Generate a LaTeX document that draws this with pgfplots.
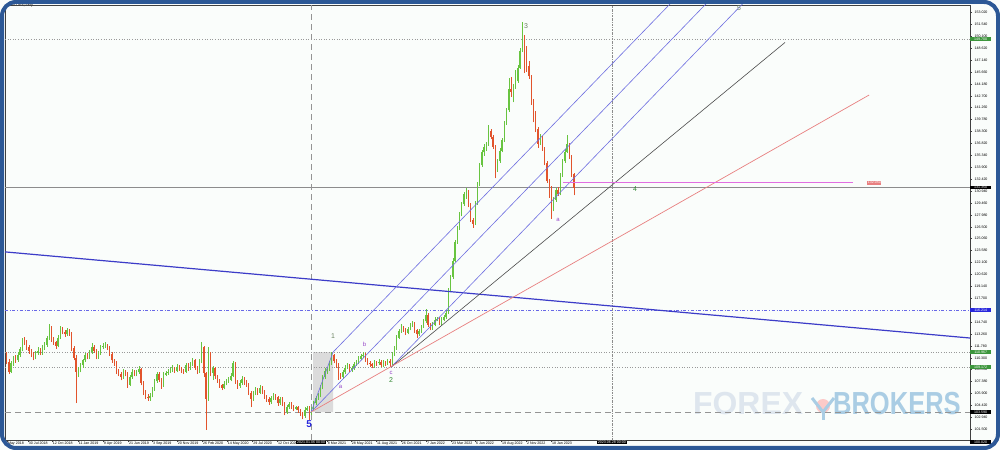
\documentclass[border=0pt]{standalone}
\usepackage{pgfplots}
\pgfplotsset{compat=1.18}
\usepackage{pgfplotstable}
\usepackage{fontspec}
\setmainfont{Liberation Sans}
\definecolor{upc}{RGB}{104,196,64}
\definecolor{dnc}{RGB}{226,84,44}
\definecolor{bgc}{RGB}{250,253,251}
\definecolor{framec}{RGB}{44,88,150}
\definecolor{pfblue}{RGB}{110,110,225}
\definecolor{tlblue}{RGB}{60,60,200}
\definecolor{tlred}{RGB}{232,128,128}
\definecolor{tlpink}{RGB}{225,110,225}
\definecolor{wvgreen}{RGB}{50,135,50}
\definecolor{wvgray}{RGB}{105,130,95}
\definecolor{wvpurple}{RGB}{150,70,200}
\definecolor{lblgreen}{RGB}{60,150,60}
\definecolor{lblblue}{RGB}{40,40,220}
\definecolor{wmA}{RGB}{222,230,238}
\definecolor{wmB}{RGB}{170,205,228}
\newcommand{\tk}{\fontsize{3.6}{4}\selectfont}

\pgfplotstableread{
w o h l c
-10 110.6 111.0 109.5 109.8
-9 109.8 110.1 108.3 108.6
-8 108.6 109.9 108.4 109.6
-7 109.6 110.5 109.3 110.2
-6 110.2 110.6 109.7 110.0
-5 110.0 111.0 109.8 110.7
-4 110.7 111.7 110.4 111.4
-3 111.4 112.8 111.1 112.4
-2 112.4 112.9 111.9 112.3
-1 112.3 112.5 111.3 111.6
0 111.6 111.9 110.8 111.1
1 111.1 111.4 110.4 110.7
2 110.7 111.0 110.0 110.3
3 110.3 111.2 110.1 110.9
4 110.9 111.6 110.7 111.2
5 111.2 111.5 110.6 110.9
6 110.9 111.9 110.7 111.6
7 111.6 112.2 111.3 111.9
8 111.9 113.0 111.7 112.7
9 112.7 114.5 112.5 114.0
10 114.0 114.2 112.3 112.6
11 112.6 112.9 111.9 112.2
12 112.2 112.4 111.4 111.8
13 111.8 113.1 111.6 112.8
14 112.8 114.2 112.6 113.9
15 113.9 114.1 113.2 113.5
16 113.5 113.7 112.9 113.2
17 113.2 114.0 113.0 113.7
18 113.7 113.9 113.0 113.3
19 113.3 113.5 111.2 111.5
20 111.5 111.8 110.0 110.3
21 110.3 110.6 104.7 108.6
22 108.6 109.2 107.9 108.7
23 108.7 109.7 108.5 109.4
24 109.4 110.2 109.1 110.0
25 110.0 110.9 109.8 110.6
26 110.6 110.9 110.1 110.4
27 110.4 111.3 110.2 111.0
28 111.0 112.1 110.8 111.7
29 111.7 111.9 110.9 111.2
30 111.2 111.4 110.1 110.4
31 110.4 111.2 110.2 110.9
32 110.9 111.9 110.7 111.6
33 111.6 112.1 111.4 111.8
34 111.8 112.2 111.5 111.9
35 111.9 112.0 111.3 111.6
36 111.6 111.8 110.5 110.8
37 110.8 111.0 109.7 110.0
38 110.0 110.2 109.3 109.6
39 109.6 109.9 108.3 108.6
40 108.6 108.9 108.0 108.3
41 108.3 108.5 107.5 107.9
42 107.9 108.9 107.7 108.6
43 108.6 108.8 108.0 108.3
44 108.3 108.5 106.6 107.0
45 107.0 108.2 106.8 107.9
46 107.9 108.9 107.7 108.6
47 108.6 108.8 108.0 108.3
48 108.3 108.8 108.0 108.5
49 108.5 109.3 108.3 108.9
50 108.9 109.1 106.9 107.2
51 107.2 107.4 105.7 106.0
52 106.0 106.3 105.2 105.5
53 105.5 105.8 105.0 105.3
54 105.3 105.9 105.0 105.6
55 105.6 106.7 105.4 106.4
56 106.4 107.7 106.2 107.4
57 107.4 108.5 107.2 108.3
58 108.3 108.5 107.3 107.6
59 107.6 107.8 106.5 106.9
60 106.9 108.5 106.7 108.2
61 108.2 108.7 108.0 108.4
62 108.4 108.9 108.2 108.6
63 108.6 109.2 108.4 108.9
64 108.9 109.4 108.6 109.0
65 109.0 109.2 108.4 108.7
66 108.7 109.5 108.5 109.2
67 109.2 109.4 108.7 109.0
68 109.0 109.2 108.4 108.7
69 108.7 108.9 108.3 108.6
70 108.6 109.7 108.4 109.4
71 109.4 109.6 108.7 109.0
72 109.0 109.8 108.8 109.5
73 109.5 110.3 109.3 110.0
74 110.0 110.2 108.8 109.1
75 109.1 109.3 108.3 108.6
76 108.6 110.1 108.4 109.8
77 109.8 112.2 109.6 111.6
78 111.6 111.8 107.9 108.4
79 108.4 108.6 101.4 105.2
80 105.2 111.7 105.0 110.8
81 110.8 111.0 108.0 108.4
82 108.4 109.3 107.6 109.0
83 109.0 109.2 107.7 108.0
84 108.0 108.2 107.2 107.5
85 107.5 107.7 106.6 106.9
86 106.9 107.1 106.3 106.6
87 106.6 107.4 106.4 107.1
88 107.1 107.7 106.9 107.4
89 107.4 107.9 107.2 107.6
90 107.6 108.4 107.4 108.1
91 108.1 109.9 107.9 109.6
92 109.6 109.8 107.1 107.4
93 107.4 107.6 106.5 106.8
94 106.8 107.5 106.6 107.2
95 107.2 108.0 107.0 107.7
96 107.7 107.9 107.0 107.3
97 107.3 107.5 106.7 107.0
98 107.0 107.2 105.7 106.0
99 106.0 106.2 104.2 105.2
100 105.2 106.2 105.0 105.9
101 105.9 106.7 105.7 106.4
102 106.4 106.6 105.7 106.0
103 106.0 106.9 105.8 106.6
104 106.6 106.8 105.8 106.1
105 106.1 106.3 105.2 105.5
106 105.5 105.7 104.9 105.2
107 105.2 105.4 104.5 104.8
108 104.8 105.6 104.6 105.3
109 105.3 105.9 105.1 105.6
110 105.6 105.8 105.1 105.4
111 105.4 105.6 104.4 104.7
112 104.7 105.5 104.5 105.2
113 105.2 105.4 104.3 104.6
114 104.6 104.8 103.2 103.6
115 103.6 104.5 103.4 104.2
116 104.2 104.9 104.0 104.6
117 104.6 104.8 104.0 104.3
118 104.3 104.5 103.7 104.0
119 104.0 104.4 103.8 104.2
120 104.2 104.4 103.5 103.8
121 103.8 104.0 103.1 103.4
122 103.4 103.6 102.7 103.1
123 103.1 104.2 102.9 103.9
124 103.9 104.4 103.7 104.1
125 104.1 104.3 102.6 103.4
126 103.4 104.2 103.2 103.9
127 103.9 105.0 103.7 104.7
128 104.7 105.6 104.5 105.3
129 105.3 105.9 105.1 105.6
130 105.6 106.9 105.4 106.6
131 106.6 108.2 106.4 107.9
132 107.9 109.0 107.7 108.7
133 108.7 109.2 108.3 108.9
134 108.9 109.9 108.7 109.6
135 109.6 111.0 109.4 110.6
136 110.6 110.8 109.6 109.9
137 109.9 110.1 109.1 109.4
138 109.4 109.6 107.6 108.2
139 108.2 108.4 107.7 107.9
140 107.9 108.8 107.7 108.5
141 108.5 109.4 108.3 109.1
142 109.1 109.6 108.9 109.3
143 109.3 109.5 108.5 108.8
144 108.8 109.3 108.6 109.0
145 109.0 109.8 108.8 109.5
146 109.5 110.0 109.3 109.7
147 109.7 110.5 109.5 110.2
148 110.2 110.8 110.0 110.5
149 110.5 111.0 110.3 110.7
150 110.7 110.9 109.8 110.1
151 110.1 110.3 109.4 109.7
152 109.7 109.9 109.2 109.5
153 109.5 109.7 109.0 109.3
154 109.3 110.0 109.1 109.7
155 109.7 109.9 109.3 109.6
156 109.6 110.1 109.4 109.8
157 109.8 110.0 109.2 109.4
158 109.4 110.0 109.2 109.7
159 109.7 109.9 109.3 109.6
160 109.6 110.2 109.4 109.9
161 109.9 110.1 109.2 109.6
162 109.6 111.0 109.4 110.7
163 110.7 111.8 110.5 111.5
164 111.5 113.1 111.3 112.8
165 112.8 113.9 112.6 113.6
166 113.6 114.5 113.4 114.0
167 114.0 114.2 113.5 113.8
168 113.8 114.0 113.1 113.4
169 113.4 114.1 113.2 113.9
170 113.9 114.6 113.7 114.3
171 114.3 114.8 114.1 114.5
172 114.5 114.7 113.4 113.7
173 113.7 113.9 112.7 113.2
174 113.2 113.9 113.0 113.6
175 113.6 114.4 113.4 114.2
176 114.2 115.1 114.0 114.8
177 114.8 116.3 114.6 115.6
178 115.6 115.8 114.1 114.4
179 114.4 114.6 113.7 114.0
180 114.0 114.7 113.8 114.4
181 114.4 115.3 114.2 115.0
182 115.0 115.4 114.8 115.1
183 115.1 115.3 114.3 114.6
184 114.6 115.3 114.4 115.0
185 115.0 115.6 114.8 115.3
186 115.3 116.2 115.1 115.9
187 115.9 118.9 115.7 118.6
188 118.6 120.6 118.4 120.3
189 120.3 122.6 120.1 122.3
190 122.3 124.9 122.1 124.6
191 124.6 126.6 124.4 126.3
192 126.3 128.3 126.1 128.0
193 128.0 129.6 127.8 129.3
194 129.3 130.8 129.1 130.5
195 130.5 131.3 130.0 130.9
196 130.9 131.1 128.9 129.2
197 129.2 129.4 127.1 127.4
198 127.4 127.6 126.4 126.9
199 126.9 129.7 126.7 129.4
200 129.4 132.0 129.2 131.7
201 131.7 134.4 131.5 134.1
202 134.1 136.0 133.9 135.7
203 135.7 136.7 135.3 136.4
204 136.4 137.0 135.9 136.7
205 136.7 139.1 136.5 138.4
206 138.4 138.6 137.3 137.6
207 137.6 137.8 136.1 136.4
208 136.4 136.6 132.5 133.5
209 133.5 134.9 133.3 134.6
210 134.6 136.2 134.4 135.9
211 135.9 137.5 135.7 137.2
212 137.2 139.6 137.0 139.3
213 139.3 141.2 139.1 140.9
214 140.9 144.9 140.7 143.6
215 143.6 145.0 142.6 143.2
216 143.2 144.1 141.9 143.8
217 143.8 145.9 143.6 144.5
218 144.5 146.5 144.3 146.2
219 146.2 148.6 146.0 148.3
220 148.3 151.8 148.1 150.0
221 150.0 150.2 145.5 147.5
222 147.5 148.8 145.7 146.4
223 146.4 147.0 144.8 145.1
224 145.1 145.3 141.6 142.0
225 142.0 142.3 139.4 139.8
226 139.8 140.8 138.2 138.6
227 138.6 138.8 136.3 136.8
228 136.8 138.0 136.6 137.5
229 137.5 137.7 135.9 136.2
230 136.2 136.4 134.1 134.4
231 134.4 134.6 131.9 132.2
232 132.2 132.4 130.1 130.4
233 130.4 131.6 127.5 128.6
234 128.6 130.2 128.4 129.8
235 129.8 131.3 129.6 131.0
236 131.0 131.4 130.3 130.6
237 130.6 133.2 130.4 132.9
238 132.9 134.9 132.7 134.6
239 134.6 136.1 134.4 135.8
240 135.8 137.9 135.6 136.7
241 136.7 136.9 134.9 135.2
242 135.2 135.4 132.7 133.0
243 133.0 133.2 130.4 131.35
}\candles

\begin{document}
\begin{tikzpicture}
\useasboundingbox (0,0) rectangle (1000bp,450bp);
\fill[bgc] (0,0) rectangle (1000bp,450bp);
% watermark
\node[anchor=base west, text=wmA, font=\fontsize{32}{32}\selectfont\bfseries, inner sep=0] at (693bp,36bp) {FOREX};
\fill[red!45, opacity=0.45] (823bp,44bp) circle (7bp);
\draw[wmB, line width=3bp] (812bp,52bp) -- (823bp,38bp) -- (834bp,52bp);
\draw[wmB, line width=3bp] (823bp,38bp) -- (823bp,30bp);
\node[anchor=base west, text=wmB, font=\fontsize{32}{32}\selectfont\bfseries, inner sep=0, xscale=0.8] at (833bp,36bp) {BROKERS};
\node[anchor=west, font=\fontsize{3.8}{4}\selectfont, inner sep=0] at (9bp,444bp) {USDJPY,Daily};
\begin{axis}[
  at={(5bp,10bp)}, anchor=south west,
  width=965bp, height=435bp, scale only axis,
  xmin=-10.7, xmax=419.7, ymin=100.14, ymax=153.93,
  clip mode=individual,
  axis line style={draw=black!75, line width=0.6bp},
  tick align=outside, major tick length=2bp,
  tick style={black!75, line width=0.4bp},
  ytick pos=right, yticklabel pos=right,
  ytick={101.5,102.94,104.42,105.9,107.38,108.86,110.3,111.78,113.26,114.74,116.22,117.7,119.14,120.62,122.1,123.58,125.06,126.5,127.98,129.46,130.94,132.42,133.9,135.34,136.82,138.3,139.78,141.26,142.7,144.18,145.66,147.14,148.62,150.1,151.54,153.02},
  yticklabel style={font=\tk, anchor=west, xshift=-1bp, /pgf/number format/.cd, fixed, fixed zerofill, precision=3, 1000 sep={}, assume math mode=true},
  xtick pos=left,
  xtick={-9.8,-0.45,10.25,21.85,33.0,44.2,54.9,66.0,77.2,88.3,99.6,110.7,132.9,143.6,154.8,165.9,177.1,188.3,199.0,210.6,221.7,232.9},
  xticklabels={May 2018,30 Jul 2018,12 Oct 2018,11 Jan 2019,9 Apr 2019,21 Jun 2019,3 Sep 2019,20 Nov 2019,26 Feb 2020,14 May 2020,29 Jul 2020,12 Oct 2020,8 Mar 2021,28 May 2021,11 Aug 2021,26 Oct 2021,7 Jan 2022,23 Mar 2022,6 Jun 2022,19 Aug 2022,2 Nov 2022,18 Jan 2023},
  xticklabel style={font=\tk, anchor=north west, xshift=0.3bp, yshift=1.2bp, inner sep=0.5bp},
]
% shaded box
\addplot[fill=black!14, draw=none] coordinates {(126.7,103.6) (135.6,103.6) (135.6,111.0) (126.7,111.0) (126.7,103.6)};
% horizontal levels
\addplot[black!40, dotted, line width=0.6bp] coordinates {(-10.7,149.7) (419.7,149.7)};
\addplot[black!40, dotted, line width=0.6bp] coordinates {(-10.7,111.0) (419.7,111.0)};
\addplot[black!40, dotted, line width=0.6bp] coordinates {(-10.7,109.17) (419.7,109.17)};
\addplot[black!45, line width=0.4bp] coordinates {(-10.7,131.35) (419.7,131.35)};
\addplot[lblblue!70, dash dot, line width=0.6bp] coordinates {(-10.7,116.2) (419.7,116.2)};
\addplot[black!42, dash pattern=on 6bp off 4bp, line width=1.0bp] coordinates {(-10.7,103.6) (419.7,103.6)};
% vertical lines
\addplot[black!42, dash pattern=on 6bp off 4bp, line width=1.0bp] coordinates {(125.8,100.14) (125.8,153.93)};
\addplot[black!45, dash pattern=on 2bp off 1bp on 0.6bp off 1bp, line width=0.6bp] coordinates {(260,100.14) (260,153.93)};
% candles: wicks
\addplot[draw=none, mark=none, x filter/.expression={\thisrow{c}>=\thisrow{o} ? x : nan},
  error bars/.cd, y dir=plus, y explicit, error mark=none,
  error bar style={draw=upc, solid, line width=0.5bp}]
  table[x=w, y=l, y error plus expr={\thisrow{h}-\thisrow{l}}] {\candles};
\addplot[draw=none, mark=none, x filter/.expression={\thisrow{c}<\thisrow{o} ? x : nan},
  error bars/.cd, y dir=plus, y explicit, error mark=none,
  error bar style={draw=dnc, solid, line width=0.5bp}]
  table[x=w, y=l, y error plus expr={\thisrow{h}-\thisrow{l}}] {\candles};
% candles: bodies
\addplot[draw=none, mark=none, x filter/.expression={\thisrow{c}>=\thisrow{o} ? x : nan},
  error bars/.cd, y dir=plus, y explicit, error mark=none,
  error bar style={draw=upc, solid, line width=1.3bp}]
  table[x=w, y expr={min(\thisrow{o},\thisrow{c})}, y error plus expr={abs(\thisrow{c}-\thisrow{o})}] {\candles};
\addplot[draw=none, mark=none, x filter/.expression={\thisrow{c}<\thisrow{o} ? x : nan},
  error bars/.cd, y dir=plus, y explicit, error mark=none,
  error bar style={draw=dnc, solid, line width=1.3bp}]
  table[x=w, y expr={min(\thisrow{o},\thisrow{c})}, y error plus expr={abs(\thisrow{c}-\thisrow{o})}] {\candles};
% trend lines
\addplot[tlblue, line width=1.2bp] coordinates {(-10.7,123.4) (419.7,112.75)};
\addplot[pfblue, line width=0.6bp] coordinates {(135.6,111.0) (289.2,155.0)};
\addplot[pfblue, line width=0.6bp] coordinates {(125.8,103.6) (305.2,155.0)};
\addplot[pfblue, line width=0.6bp] coordinates {(161.5,109.15) (321.5,155.0)};
\addplot[pfblue, line width=0.6bp] coordinates {(125.8,103.6) (135.6,111.0)};
\addplot[black!70, line width=0.6bp] coordinates {(161.5,109.15) (337.2,149.3)};
\addplot[tlred, line width=0.7bp] coordinates {(125.8,103.6) (374.7,142.8)};
\addplot[tlpink, line width=0.7bp] coordinates {(238.2,131.95) (367.5,131.95)};
% wave labels
\node[text=lblblue, font=\fontsize{10}{10}\selectfont\bfseries] at (axis cs:124.9,102.1) {5};
\node[text=wvgray, font=\fontsize{7}{7}\selectfont] at (axis cs:135.6,113.0) {1};
\node[text=wvpurple, font=\fontsize{6}{6}\selectfont] at (axis cs:139.0,106.7) {a};
\node[text=wvpurple, font=\fontsize{6}{6}\selectfont] at (axis cs:149.6,112.0) {b};
\node[text=wvpurple, font=\fontsize{6}{6}\selectfont] at (axis cs:161.5,108.45) {c};
\node[text=wvgreen, font=\fontsize{7}{7}\selectfont] at (axis cs:161.5,107.5) {2};
\node[text=wvgray, font=\fontsize{7}{7}\selectfont] at (axis cs:221.7,151.3) {3};
\node[text=wvpurple, font=\fontsize{6}{6}\selectfont] at (axis cs:236.0,127.3) {a};
\node[text=wvgreen, font=\fontsize{7}{7}\selectfont] at (axis cs:270.3,131.15) {4};
\node[text=wvgray, font=\fontsize{7}{7}\selectfont] at (axis cs:316.7,153.5) {5};
\node[anchor=west, fill=tlred, text=white, font=\tk, inner sep=0.6bp] at (axis cs:373.8,131.95) {132.050};
% price-axis highlight labels
\node[anchor=west, fill=lblgreen, text=white, font=\tk, inner sep=0.6bp, minimum width=21bp] at (axis cs:419.7,149.7) {149.700};
\node[anchor=west, fill=black, text=white, font=\tk, inner sep=0.6bp, minimum width=21bp] at (axis cs:419.7,131.35) {131.350};
\node[anchor=west, fill=lblblue, text=white, font=\tk, inner sep=0.6bp, minimum width=21bp] at (axis cs:419.7,116.2) {116.214};
\node[anchor=west, fill=lblgreen, text=white, font=\tk, inner sep=0.6bp, minimum width=21bp] at (axis cs:419.7,111.0) {110.967};
\node[anchor=west, fill=lblgreen, text=white, font=\tk, inner sep=0.6bp, minimum width=21bp] at (axis cs:419.7,109.17) {109.172};
\node[anchor=west, fill=black, text=white, font=\tk, inner sep=0.6bp, minimum width=21bp] at (axis cs:419.7,103.6) {103.590};
\node[anchor=north west, fill=black, text=white, font=\tk, inner sep=0.6bp, minimum width=21bp] at (axis cs:419.7,100.14) {100.020};
% date-axis highlight labels
\node[anchor=north, fill=black, text=white, font=\tk, inner sep=0.6bp, yshift=-0.5bp] at (axis cs:125.8,100.14) {2021.01.06 00:00};
\node[anchor=north, fill=black, text=white, font=\tk, inner sep=0.6bp, yshift=-0.5bp] at (axis cs:260,100.14) {2023.06.28 00:00};
\end{axis}
\draw[framec, line width=4bp, rounded corners=14bp] (2bp,2bp) rectangle (998bp,448bp);
\end{tikzpicture}
\end{document}
